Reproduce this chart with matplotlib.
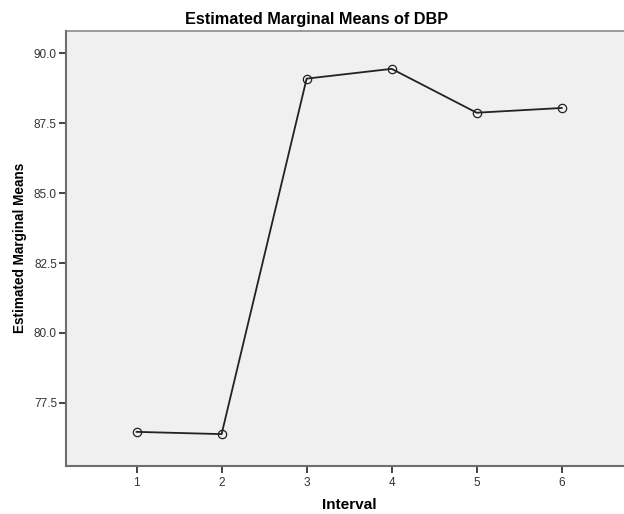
"""Estimated marginal means of DBP by interval"""

from matplotlib import pyplot as plt

intervals = [1, 2, 3, 4, 5, 6]
means = [76.46, 76.38, 89.10, 89.45, 87.88, 88.05]
y_ticks = [77.5, 80.0, 82.5, 85.0, 87.5, 90.0]

plt.rcParams['font.family'] = ['Liberation Sans', 'DejaVu Sans']

fig = plt.figure(figsize=(6.24, 5.14), dpi=100)
ax = fig.add_axes([0.1058, 0.094, 0.9306, 0.846])
ax.set_facecolor('#f0f0f0')

ax.plot(intervals, means, color='#222222', linewidth=1.3,
        marker='o', markersize=6, markerfacecolor='none',
        markeredgecolor='#222222', markeredgewidth=0.9)

ax.set_xlim(0.17, 7.0)
ax.set_ylim(75.25, 90.81)
ax.set_xticks(intervals)
ax.set_yticks(y_ticks)
ax.set_yticklabels([f'{v:.1f}' for v in y_ticks])

for side in ['top', 'right']:
    ax.spines[side].set_visible(False)
for side in ['left', 'bottom']:
    ax.spines[side].set_color('#6e6e6e')
    ax.spines[side].set_linewidth(1.5)
ax.plot([0, 1], [1, 1], transform=ax.transAxes, color='#8a8a8a',
        linewidth=1.2, clip_on=False)

ax.tick_params(axis='both', direction='out', length=5, width=1.2,
               colors='#222222', labelsize=8.5, labelcolor='#333333')
ax.tick_params(axis='y', pad=1.5)

ax.set_title('Estimated Marginal Means of DBP', fontsize=11.7,
             fontweight='bold', pad=5, x=0.432)
ax.set_xlabel('Interval', fontsize=11.1, fontweight='bold')
ax.set_ylabel('Estimated Marginal Means', fontsize=9.8, fontweight='bold')
ax.xaxis.set_label_coords(0.487, -0.074)
ax.yaxis.set_label_coords(-0.067, 0.5)

fig.savefig('out.png', dpi=100)
